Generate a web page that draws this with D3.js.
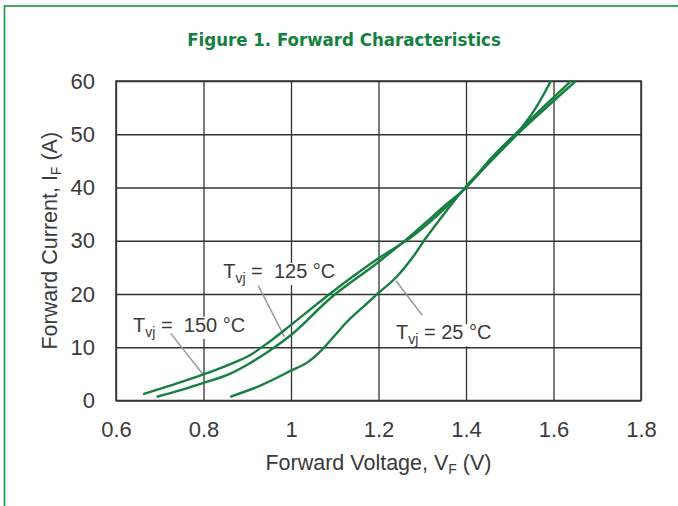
<!DOCTYPE html>
<html>
<head>
<meta charset="utf-8">
<script src="https://cdn.jsdelivr.net/npm/d3@7"></script>
<style>
  body { margin: 0; background: #fff; }
  svg { display: block; }
  text { white-space: pre; }
</style>
</head>
<body>
<div id="chart"></div>
<script>
// forward characteristics
const vf150 = [0.662, 0.72, 0.8, 0.86, 0.906, 0.95, 1.0, 1.09, 1.2, 1.28, 1.356, 1.4, 1.455, 1.515, 1.578, 1.651];
const if150 = [1.2, 2.7, 4.9, 6.8, 8.5, 11.0, 14.2, 20.1, 26.7, 31.0, 36.4, 40.0, 44.8, 49.8, 54.6, 60];
const vf125 = [0.693, 0.75, 0.8, 0.86, 0.906, 0.95, 1.0, 1.09, 1.2, 1.28, 1.356, 1.4, 1.455, 1.515, 1.578, 1.64];
const if125 = [0.7, 2.0, 3.3, 5.0, 7.0, 9.3, 12.3, 19.2, 26.0, 31.4, 36.9, 40.0, 45.3, 50.2, 55.2, 60];
const vf25 = [0.861, 0.93, 1.0, 1.04, 1.074, 1.1, 1.127, 1.165, 1.2, 1.241, 1.279, 1.31, 1.356, 1.4, 1.46, 1.516, 1.56, 1.594];
const if25 = [0.7, 2.8, 5.6, 7.3, 9.8, 12.2, 14.7, 17.6, 20.2, 23.2, 27.0, 30.7, 35.7, 40.2, 45.3, 50.1, 55.0, 60];

const xTicks = [0.6, 0.8, 1, 1.2, 1.4, 1.6, 1.8];
const yTicks = [0, 10, 20, 30, 40, 50, 60];

// label: temperature, text anchor (V, I), pointer from (V, I) to (V, I)
const labels = [
  {t: "150 °C", gap: true, at: [0.639, 12.9], from: [0.725, 12.6], to: [0.8, 4.8]},
  {t: "125 °C", gap: true, at: [0.845, 23.0], from: [0.925, 21.6], to: [0.985, 12.0]},
  {t: "25 °C", gap: false, at: [1.24, 11.5], from: [1.3, 16.0], to: [1.24, 22.5]}
];

const W = 678, H = 506;
const margin = {top: 81, left: 116, right: 37, bottom: 105.5};
const w = W - margin.left - margin.right;
const h = H - margin.top - margin.bottom;

const green = "#178040";
const ink = "#3a3a3a";
const font = "'Liberation Sans', Arial, sans-serif";

const svg = d3.select("#chart").append("svg")
  .attr("width", W)
  .attr("height", H);

// green page frame
svg.append("rect")
  .attr("x", 4.5).attr("y", 6)
  .attr("width", 800).attr("height", 800)
  .attr("fill", "none")
  .attr("stroke", "#0c9a40")
  .attr("stroke-width", 1.6);

svg.append("text")
  .attr("x", 344).attr("y", 46)
  .attr("text-anchor", "middle")
  .attr("font-family", "'DejaVu Sans Condensed', 'Liberation Sans Narrow', sans-serif")
  .attr("font-weight", "bold")
  .attr("font-size", 18.5)
  .attr("fill", "#128040")
  .text("Figure 1. Forward Characteristics");

const g = svg.append("g").attr("transform", `translate(${margin.left},${margin.top})`);

const x = d3.scaleLinear().domain([0.6, 1.8]).range([0, w]);
const y = d3.scaleLinear().domain([0, 60]).range([h, 0]);

const xAxis = g.append("g")
  .attr("transform", `translate(0,${h})`)
  .call(d3.axisBottom(x).tickValues(xTicks).tickSize(-h).tickPadding(21)
    .tickFormat(d => d3.format("")(d)));
const yAxis = g.append("g")
  .call(d3.axisLeft(y).tickValues(yTicks).tickSize(-w).tickPadding(21));

[xAxis, yAxis].forEach(a => {
  a.select(".domain").remove();
  a.selectAll("line").attr("stroke", "#333").attr("stroke-width", 1.3);
  a.selectAll("text")
    .attr("font-family", font)
    .attr("font-size", 22)
    .attr("fill", ink);
});

g.append("rect")
  .attr("width", w).attr("height", h)
  .attr("fill", "none")
  .attr("stroke", "#333")
  .attr("stroke-width", 1.5);

// annotations go under the curves, white box hides the grid
const ann = g.append("g");
labels.forEach(l => {
  const txt = ann.append("text")
    .attr("x", x(l.at[0])).attr("y", y(l.at[1]))
    .attr("font-family", font)
    .attr("font-size", 20)
    .attr("fill", ink);
  txt.append("tspan").text("T");
  txt.append("tspan").attr("font-size", 14).attr("dy", 5).text("vj");
  txt.append("tspan").attr("dy", -5).text(l.gap ? " =  " + l.t : " = " + l.t);
  const b = txt.node().getBBox();
  ann.insert("rect", () => txt.node())
    .attr("x", b.x - 2).attr("y", b.y + 3)
    .attr("width", b.width + 4).attr("height", b.height - 4)
    .attr("fill", "#fff");
  ann.append("line")
    .attr("x1", x(l.from[0])).attr("y1", y(l.from[1]))
    .attr("x2", x(l.to[0])).attr("y2", y(l.to[1]))
    .attr("stroke", "#999")
    .attr("stroke-width", 1.5);
});

const line = d3.line()
  .x(d => x(d[0]))
  .y(d => y(d[1]))
  .curve(d3.curveMonotoneX);

[[vf150, if150], [vf125, if125], [vf25, if25]].forEach(([vs, is]) => {
  g.append("path")
    .datum(vs.map((v, i) => [v, is[i]]))
    .attr("d", line)
    .attr("fill", "none")
    .attr("stroke", green)
    .attr("stroke-width", 2.4);
});

// axis titles
const xt = svg.append("text")
  .attr("x", margin.left + w / 2).attr("y", 470)
  .attr("text-anchor", "middle")
  .attr("font-family", font).attr("font-size", 21.5).attr("fill", ink);
xt.append("tspan").text("Forward Voltage, V");
xt.append("tspan").attr("font-size", 14).attr("dy", 4).text("F");
xt.append("tspan").attr("dy", -4).text(" (V)");

const yt = svg.append("text")
  .attr("transform", `translate(57,${margin.top + h / 2}) rotate(-90)`)
  .attr("text-anchor", "middle")
  .attr("font-family", font).attr("font-size", 21.5).attr("fill", ink);
yt.append("tspan").text("Forward Current, I");
yt.append("tspan").attr("font-size", 14).attr("dy", 4).text("F");
yt.append("tspan").attr("dy", -4).text(" (A)");
</script>
</body>
</html>
